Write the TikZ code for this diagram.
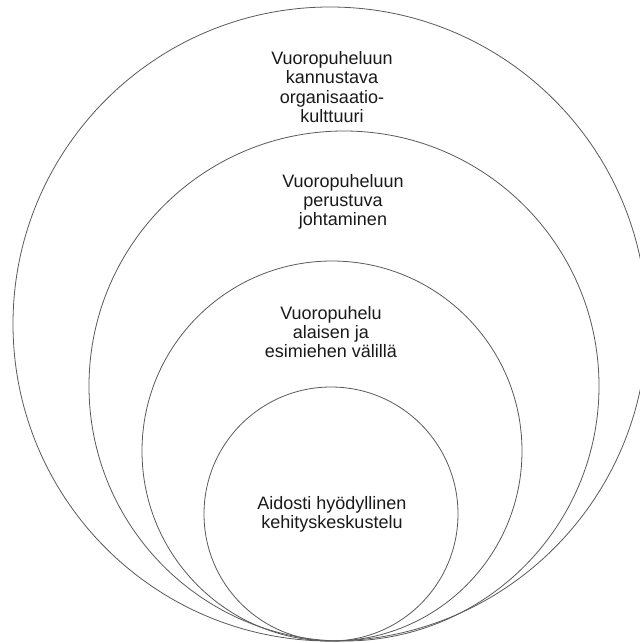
\documentclass[tikz,border=0pt]{standalone}
\usepackage{fontspec}
\setmainfont{Liberation Sans}
\begin{document}
\begin{tikzpicture}[x=1pt,y=-1pt,
  ring/.style={draw=black!65,line width=0.8pt,circle,inner sep=0pt,fill=none},
  lbl/.style={align=center,inner sep=0pt,text=black!90,font=\fontsize{18}{19.2}\selectfont}]
\useasboundingbox (0,0) rectangle (640,643);
\node[ring,minimum size=634pt] (c1) at (330,324) {};
\node[ring,minimum size=510pt] (c2) at (344,386) {};
\node[ring,minimum size=380pt] (c3) at (332,451) {};
\node[ring,minimum size=254pt] (c4) at (331,514) {};
\node[lbl] (t1) at (332,87) {Vuoropuheluun\\kannustava\\organisaatio-\\kulttuuri};
\node[lbl] (t2) at (343,202) {Vuoropuheluun\\perustuva\\johtaminen};
\node[lbl] (t3) at (331,332) {Vuoropuhelu\\alaisen ja\\esimiehen välillä};
\node[lbl] (t4) at (332,514) {Aidosti hyödyllinen\\kehityskeskustelu};
\end{tikzpicture}
\end{document}
